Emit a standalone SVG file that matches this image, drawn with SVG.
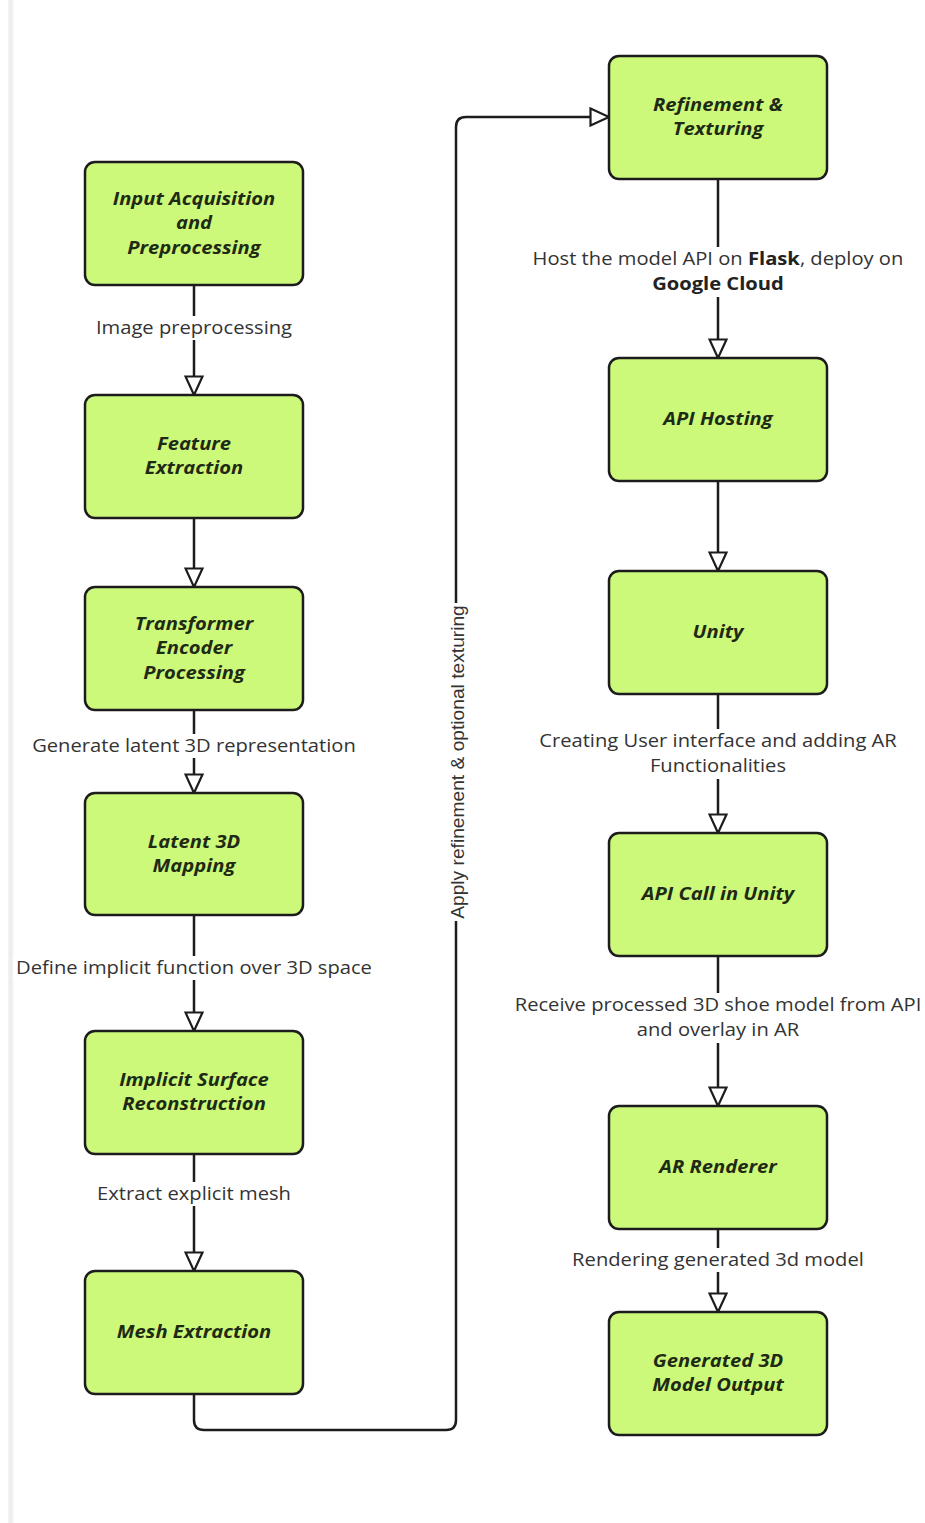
<svg xmlns="http://www.w3.org/2000/svg" width="925" height="1523" viewBox="0 0 925 1523">
<defs>
<style>
.node rect{fill:#cdf97b;stroke:#1c1c1c;stroke-width:2.5}
.nt{font-family:"Open Sans","DejaVu Sans",sans-serif;font-weight:bold;font-style:italic;font-size:18.5px;fill:#1f2a14;text-anchor:middle}
.lbl{font-family:"Open Sans","DejaVu Sans",sans-serif;font-size:18.5px;fill:#333;text-anchor:middle}
.lbl tspan.b{font-weight:bold;fill:#222}
.bg{fill:#fff}
.edge{fill:none;stroke:#1c1c1c;stroke-width:2.5}
.rot{font-family:"Liberation Sans",Arial,sans-serif;font-size:19.2px;fill:#333;text-anchor:middle}
</style>
<marker id="tri" viewBox="0 0 22 20" refX="20" refY="10" markerWidth="22" markerHeight="20" markerUnits="userSpaceOnUse" orient="auto">
<path d="M1.5,1.5 L20,10 L1.5,18.5 Z" fill="#fff" stroke="#1c1c1c" stroke-width="2.2" stroke-linejoin="miter"/>
</marker>
<linearGradient id="strip" x1="0" x2="1" y1="0" y2="0">
<stop offset="0" stop-color="#f4f4f4"/>
<stop offset="0.5" stop-color="#ebebeb"/>
<stop offset="1" stop-color="#fafafa"/>
</linearGradient>
</defs>
<rect x="0" y="0" width="925" height="1523" fill="#fff"/>
<rect x="8" y="0" width="6" height="1523" fill="url(#strip)"/>

<g id="connectors">
<path class="edge" d="M194,285 V395" marker-end="url(#tri)"/>
<path class="edge" d="M194,518 V587" marker-end="url(#tri)"/>
<path class="edge" d="M194,710 V793" marker-end="url(#tri)"/>
<path class="edge" d="M194,915 V1031" marker-end="url(#tri)"/>
<path class="edge" d="M194,1154 V1271" marker-end="url(#tri)"/>
<path class="edge" d="M194,1394 V1420 Q194,1430 204,1430 H446 Q456,1430 456,1420 V127 Q456,117 466,117 H609" marker-end="url(#tri)"/>
<path class="edge" d="M718,179 V358" marker-end="url(#tri)"/>
<path class="edge" d="M718,481 V571" marker-end="url(#tri)"/>
<path class="edge" d="M718,694 V833" marker-end="url(#tri)"/>
<path class="edge" d="M718,956 V1106" marker-end="url(#tri)"/>
<path class="edge" d="M718,1229 V1312" marker-end="url(#tri)"/>

<g id="label-image-preprocessing">
<rect class="bg" x="94" y="316" width="200" height="24"/>
<text class="lbl" x="194" y="334" transform="matrix(1.09 0 0 1 -17.46 0)">Image preprocessing</text>
</g>
<g id="label-generate-latent">
<rect class="bg" x="30" y="734" width="328" height="24"/>
<text class="lbl" x="194" y="752" transform="matrix(1.09 0 0 1 -17.46 0)">Generate latent 3D representation</text>
</g>
<g id="label-define-implicit">
<rect class="bg" x="13" y="956" width="362" height="24"/>
<text class="lbl" x="194" y="974" transform="matrix(1.09 0 0 1 -17.46 0)">Define implicit function over 3D space</text>
</g>
<g id="label-extract-mesh">
<rect class="bg" x="95" y="1182" width="198" height="24"/>
<text class="lbl" x="194" y="1200" transform="matrix(1.09 0 0 1 -17.46 0)">Extract explicit mesh</text>
</g>
<g id="label-apply-refinement">
<rect class="bg" x="446" y="603" width="24" height="318"/>
<text class="rot" transform="translate(464,762) rotate(-90)">Apply refinement &amp; optional texturing</text>
</g>
<g id="label-host-api">
<rect class="bg" x="530" y="247" width="376" height="50"/>
<g transform="matrix(1.09 0 0 1 -64.62 0)">
<text class="lbl" x="718" y="265">Host the model API on <tspan class="b">Flask</tspan>, deploy on</text>
<text class="lbl" x="718" y="290"><tspan class="b">Google Cloud</tspan></text>
</g>
</g>
<g id="label-creating-ui">
<rect class="bg" x="536" y="729" width="364" height="50"/>
<g transform="matrix(1.09 0 0 1 -64.62 0)">
<text class="lbl" x="718" y="747">Creating User interface and adding AR</text>
<text class="lbl" x="718" y="772">Functionalities</text>
</g>
</g>
<g id="label-receive-model">
<rect class="bg" x="511" y="993" width="414" height="50"/>
<g transform="matrix(1.09 0 0 1 -64.62 0)">
<text class="lbl" x="718" y="1011">Receive processed 3D shoe model from API</text>
<text class="lbl" x="718" y="1036">and overlay in AR</text>
</g>
</g>
<g id="label-rendering">
<rect class="bg" x="570" y="1248" width="296" height="24"/>
<text class="lbl" x="718" y="1266" transform="matrix(1.09 0 0 1 -64.62 0)">Rendering generated 3d model</text>
</g>
</g>

<g id="node-input" class="node">
<rect x="85" y="162" width="218" height="123" rx="10"/>
<g transform="matrix(1.09 0 0 1 -17.46 0)">
<text class="nt" x="194" y="205">Input Acquisition</text>
<text class="nt" x="194" y="229.5">and</text>
<text class="nt" x="194" y="254">Preprocessing</text>
</g>
</g>
<g id="node-feature" class="node">
<rect x="85" y="395" width="218" height="123" rx="10"/>
<g transform="matrix(1.09 0 0 1 -17.46 0)">
<text class="nt" x="194" y="450">Feature</text>
<text class="nt" x="194" y="474.5">Extraction</text>
</g>
</g>
<g id="node-transformer" class="node">
<rect x="85" y="587" width="218" height="123" rx="10"/>
<g transform="matrix(1.09 0 0 1 -17.46 0)">
<text class="nt" x="194" y="630">Transformer</text>
<text class="nt" x="194" y="654.5">Encoder</text>
<text class="nt" x="194" y="679">Processing</text>
</g>
</g>
<g id="node-latent" class="node">
<rect x="85" y="793" width="218" height="122" rx="10"/>
<g transform="matrix(1.09 0 0 1 -17.46 0)">
<text class="nt" x="194" y="848">Latent 3D</text>
<text class="nt" x="194" y="872.5">Mapping</text>
</g>
</g>
<g id="node-implicit" class="node">
<rect x="85" y="1031" width="218" height="123" rx="10"/>
<g transform="matrix(1.09 0 0 1 -17.46 0)">
<text class="nt" x="194" y="1086">Implicit Surface</text>
<text class="nt" x="194" y="1110.5">Reconstruction</text>
</g>
</g>
<g id="node-mesh" class="node">
<rect x="85" y="1271" width="218" height="123" rx="10"/>
<g transform="matrix(1.09 0 0 1 -17.46 0)">
<text class="nt" x="194" y="1338.5">Mesh Extraction</text>
</g>
</g>
<g id="node-refinement" class="node">
<rect x="609" y="56" width="218" height="123" rx="10"/>
<g transform="matrix(1.09 0 0 1 -64.62 0)">
<text class="nt" x="718" y="111">Refinement &amp;</text>
<text class="nt" x="718" y="135.5">Texturing</text>
</g>
</g>
<g id="node-api-hosting" class="node">
<rect x="609" y="358" width="218" height="123" rx="10"/>
<g transform="matrix(1.09 0 0 1 -64.62 0)">
<text class="nt" x="718" y="425.5">API Hosting</text>
</g>
</g>
<g id="node-unity" class="node">
<rect x="609" y="571" width="218" height="123" rx="10"/>
<g transform="matrix(1.09 0 0 1 -64.62 0)">
<text class="nt" x="718" y="638.5">Unity</text>
</g>
</g>
<g id="node-api-call" class="node">
<rect x="609" y="833" width="218" height="123" rx="10"/>
<g transform="matrix(1.09 0 0 1 -64.62 0)">
<text class="nt" x="718" y="900.5">API Call in Unity</text>
</g>
</g>
<g id="node-ar-renderer" class="node">
<rect x="609" y="1106" width="218" height="123" rx="10"/>
<g transform="matrix(1.09 0 0 1 -64.62 0)">
<text class="nt" x="718" y="1173.5">AR Renderer</text>
</g>
</g>
<g id="node-generated" class="node">
<rect x="609" y="1312" width="218" height="123" rx="10"/>
<g transform="matrix(1.09 0 0 1 -64.62 0)">
<text class="nt" x="718" y="1367">Generated 3D</text>
<text class="nt" x="718" y="1391.5">Model Output</text>
</g>
</g>
</svg>
